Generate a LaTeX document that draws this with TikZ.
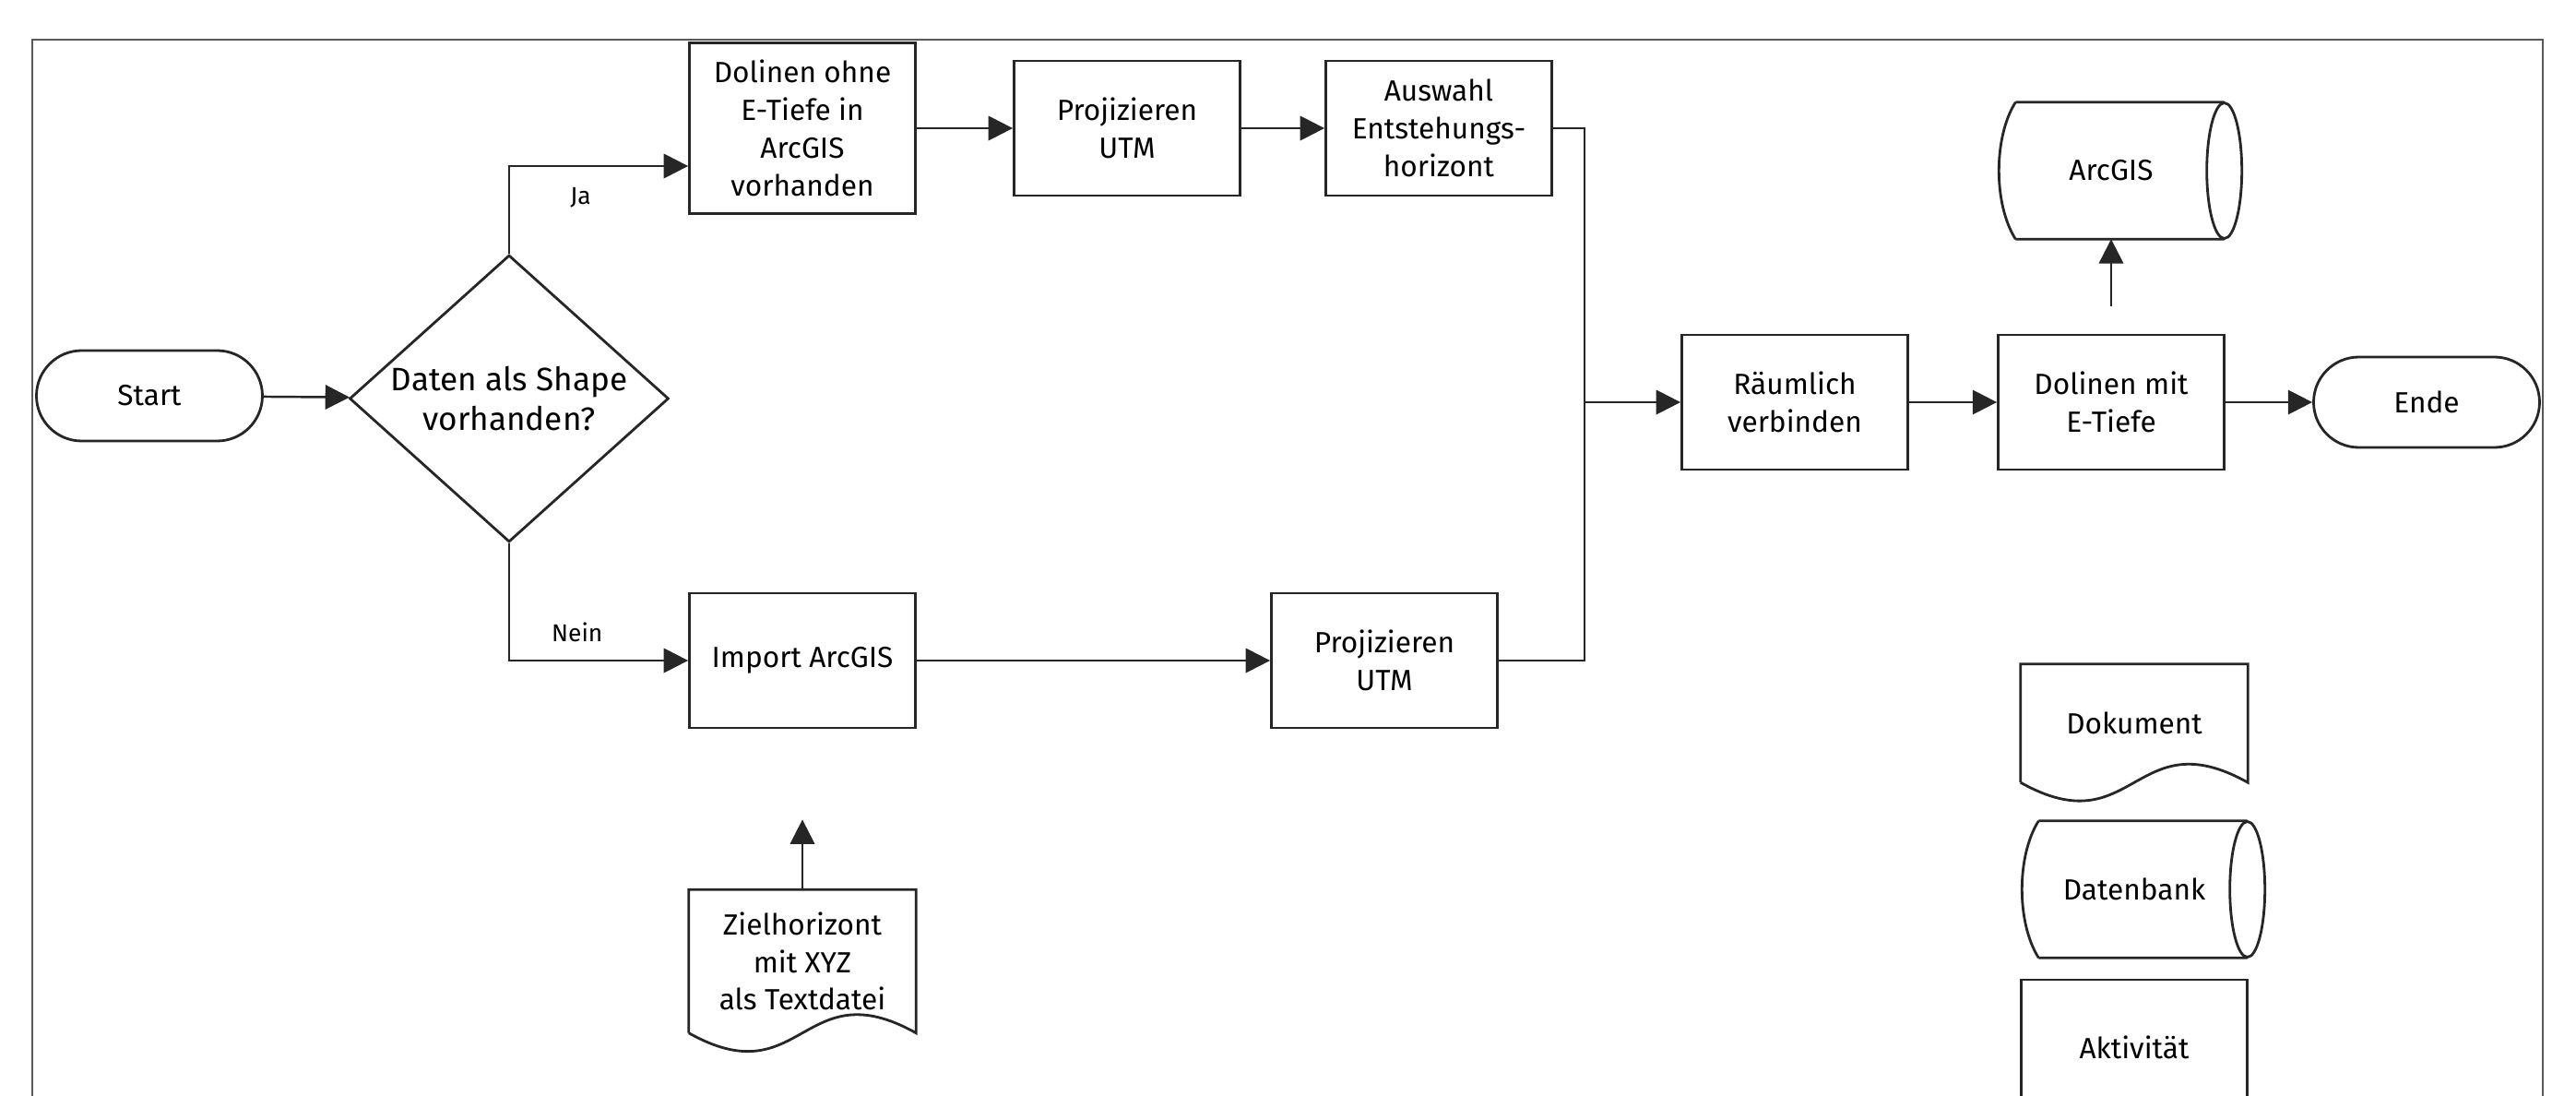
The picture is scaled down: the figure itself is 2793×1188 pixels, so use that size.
\documentclass[tikz,border=0pt]{standalone}
\usepackage{fontspec}
\setmainfont{Fira Sans}
\usepackage{tikz}
\usetikzlibrary{arrows.meta,positioning,calc,shapes.geometric}
\definecolor{FrameGray}{HTML}{595959}
\definecolor{LineDark}{HTML}{262626}
\newcommand{\dbshape}[1]{%
  \draw[shapeline] ($(#1.north west)+(19,0)$) -- (#1.north east)
    ($(#1.south west)+(19,0)$) -- (#1.south east)
    ($(#1.north west)+(19,0)$) .. controls ($(#1.north west)+(-5,38)$) and ($(#1.south west)+(-5,-38)$) .. ($(#1.south west)+(19,0)$);
  \draw[shapeline] (#1.east) ellipse [x radius=1.9mm, y radius=7.35mm];}
\newcommand{\docshape}[1]{%
  \draw[shapeline] (#1.south west) -- (#1.north west) -- (#1.north east) -- (#1.south east)
    .. controls ($(#1.south)+(0,-69)$) and ($(#1.south)+(0,69)$) .. (#1.south west);}
\begin{document}
\begin{tikzpicture}[
  x=0.1mm, y=-0.1mm,
  font=\fontsize{9}{11.6}\selectfont,
  box/.style={draw=LineDark,line width=0.8pt,minimum width=24.5mm,minimum height=14.6mm,align=center,inner sep=2pt},
  term/.style={box,rounded corners=4.9mm,minimum height=9.8mm},
  decision/.style={diamond,aspect=1.1,draw=LineDark,line width=0.8pt,minimum width=34.6mm,minimum height=31.1mm,inner sep=0pt,align=center,font=\fontsize{10}{12}\selectfont},
  doc/.style={minimum width=24.5mm,align=center,inner sep=0pt},
  db/.style={minimum width=24.4mm,minimum height=14.7mm,align=center,inner sep=0pt},
  shapeline/.style={draw=LineDark,line width=0.8pt},
  link/.style={draw=LineDark,line width=0.7pt},
  arrow/.style={link,-{Triangle[length=7.5pt,width=7.5pt]}},
  branch/.style={font=\fontsize{7.5}{9}\selectfont}
]
\useasboundingbox (0,0) rectangle (2793,1188);
\clip (0,0) rectangle (2793,1188);
\draw[FrameGray,line width=0.6pt] (35,1200) -- (35,43) -- (2757,43) -- (2757,1200);
\node[term] (start) at (162,429) {Start};
\node[decision] (decide) at (552,432) {Daten als Shape\\vorhanden?};
\node[box,minimum height=18.5mm] (ohne) at (870,139) {Dolinen ohne\\E-Tiefe in\\ArcGIS\\vorhanden};
\node[box] (proj1) at (1222,139) {Projizieren\\UTM};
\node[box] (auswahl) at (1560,139) {Auswahl\\Entstehungs-\\horizont};
\node[box] (import) at (870,716) {Import ArcGIS};
\node[box] (proj2) at (1501,716) {Projizieren\\UTM};
\node[box] (raeumlich) at (1946,436) {Räumlich\\verbinden};
\node[box] (mit) at (2289,436) {Dolinen mit\\E-Tiefe};
\node[term] (ende) at (2631,436) {Ende};
\node[db] (arcgis) at (2289,185) {ArcGIS};
\node[doc,minimum height=15.4mm] (ziel) at (870,1042) {Zielhorizont\\mit XYZ\\als Textdatei};
\node[doc,minimum height=12.7mm] (doku) at (2314,784) {Dokument};
\node[db] (dbank) at (2314,964) {Datenbank};
\node[box] (akt) at (2314,1135) {Aktivität};
\dbshape{arcgis}
\dbshape{dbank}
\docshape{ziel}
\docshape{doku}
\coordinate (merge) at (1718,436);
\draw[arrow] (start) -- (decide);
\draw[arrow] (decide.north) |- ([yshift=-4.1mm]ohne.west) node[branch,pos=0.7,below=3pt] {Ja};
\draw[arrow] (decide.south) |- (import.west) node[branch,pos=0.69,above=2pt] {Nein};
\draw[arrow] (ohne) -- (proj1);
\draw[arrow] (proj1) -- (auswahl);
\draw[arrow] (import) -- (proj2);
\draw[link] (auswahl.east) -| (merge);
\draw[link] (proj2.east) -| (merge);
\draw[arrow] (merge) -- (raeumlich);
\draw[arrow] (raeumlich) -- (mit);
\draw[arrow] (mit) -- (ende);
\draw[arrow,shorten <=3mm] (mit) -- (arcgis);
\draw[arrow,shorten >=9.8mm] (ziel.north) -- (import.south);
\end{tikzpicture}
\end{document}
